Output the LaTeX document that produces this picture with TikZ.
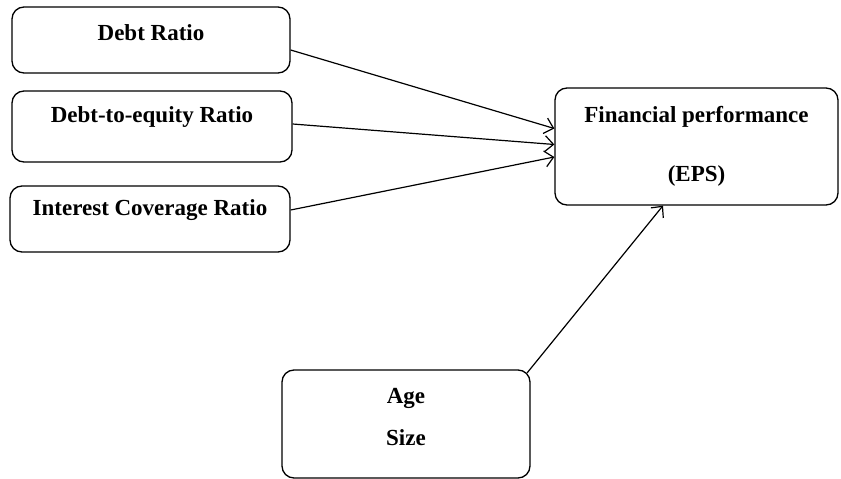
\documentclass[tikz,border=0pt]{standalone}
\usepackage{fontspec}
\setmainfont{Liberation Serif}
\usetikzlibrary{arrows.meta,positioning}

\begin{document}
\begin{tikzpicture}[x=1pt,y=-1pt,
  varbox/.style={draw,line width=1.3pt,rounded corners=12pt},
  vartext/.style={font=\fontsize{23}{27}\selectfont\bfseries,align=center,inner sep=0pt},
  link/.style={line width=1.2pt,-{Straight Barb[length=8.5pt,width=16pt]}}
]
  \useasboundingbox (0,0) rectangle (841,479);

  % Independent variables
  \node[varbox,minimum width=278pt,minimum height=66pt] (dr) at (151,40) {};
  \node[vartext] (drt) at (151,33) {Debt Ratio};
  \node[varbox,minimum width=280pt,minimum height=71pt] (de) at (152,126.5) {};
  \node[vartext] (det) at (152,117) {Debt-to-equity Ratio};
  \node[varbox,minimum width=280pt,minimum height=66pt] (ic) at (150,219) {};
  \node[vartext] (ict) at (150,210) {Interest Coverage Ratio};

  % Dependent variable
  \node[varbox,minimum width=283pt,minimum height=117pt] (fp) at (696.5,146.5) {};
  \node[vartext] (fpt) at (696.5,117) {Financial performance};
  \node[vartext] (eps) at (696.5,176) {(EPS)};

  % Control variables
  \node[varbox,minimum width=248pt,minimum height=108pt] (ctl) at (406,424) {};
  \node[vartext] (age) at (406,398) {Age};
  \node[vartext] (size) at (406,438) {Size};

  % Arrows
  \draw[link] ([yshift=-10pt]dr.east) -- ([yshift=18pt]fp.west);
  \draw[link] ([yshift=2.5pt]de.east) -- ([yshift=2pt]fp.west);
  \draw[link] ([yshift=9pt]ic.east) -- ([yshift=-10.5pt]fp.west);
  \draw[link] ([xshift=-3.5pt,yshift=-3.5pt]ctl.north east) -- ([xshift=-33.5pt]fp.south);
\end{tikzpicture}
\end{document}
